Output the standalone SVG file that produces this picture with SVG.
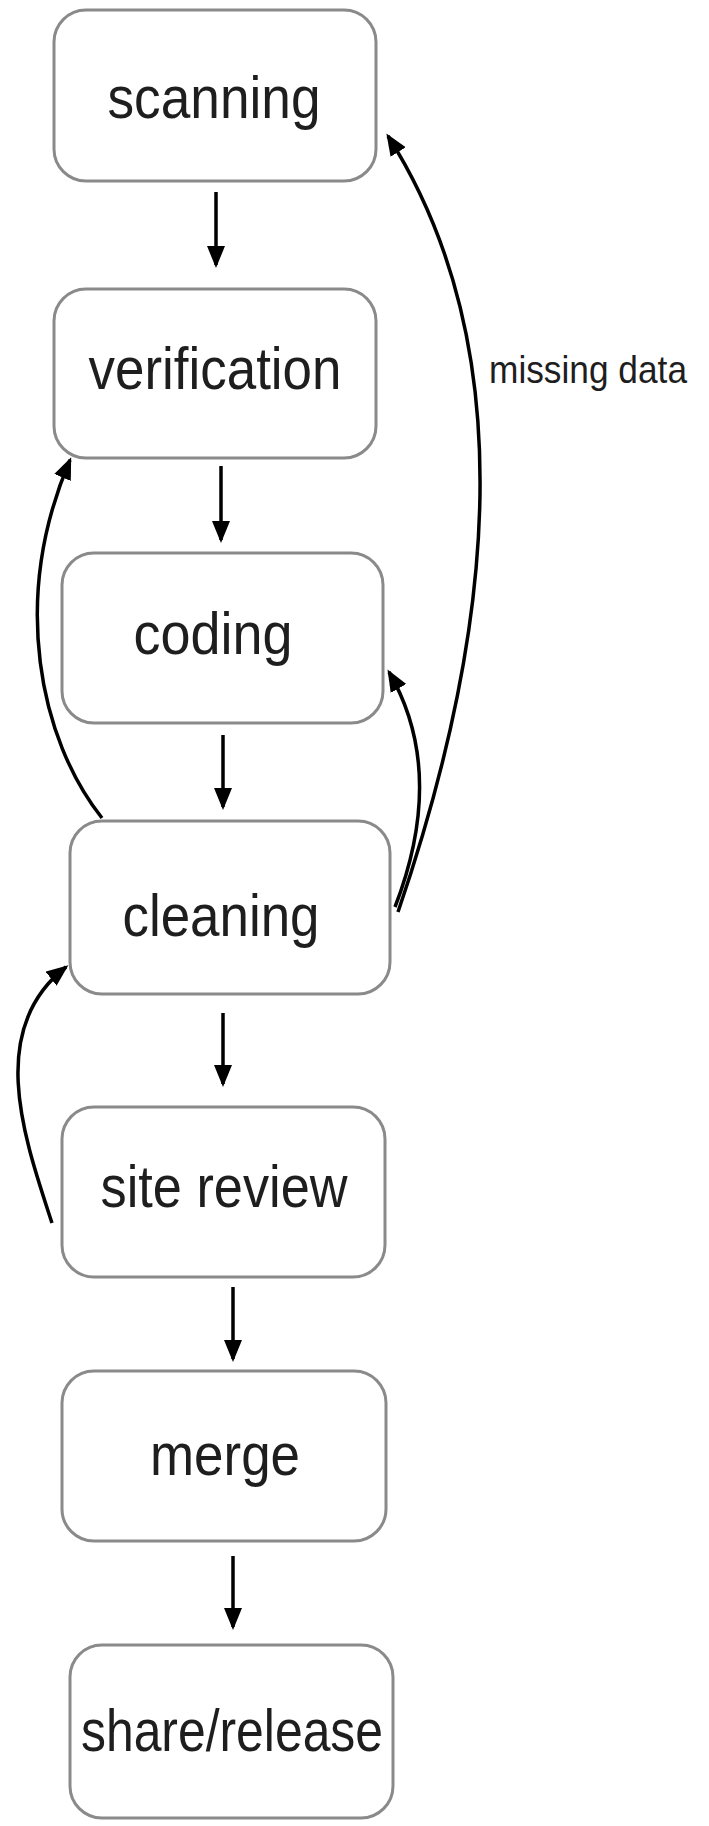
<svg xmlns="http://www.w3.org/2000/svg" width="709" height="1826" viewBox="0 0 709 1826">
  <style>
    .box { fill: #ffffff; stroke: #8a8a8a; stroke-width: 3; }
    .lbl { font-family: "Liberation Sans", Arial, sans-serif; font-size: 60px; fill: #1e1e1e; text-anchor: middle; }
    .note { font-family: "Liberation Sans", Arial, sans-serif; font-size: 39px; fill: #1e1e1e; }
    .edge { fill: none; stroke: #000000; stroke-width: 3.5; marker-end: url(#ah); }
  </style>
  <defs>
    <marker id="ah" markerUnits="userSpaceOnUse" markerWidth="24" markerHeight="20" refX="19" refY="9" orient="auto">
      <path d="M0,0 L22,9 L0,18 z" fill="#000000"/>
    </marker>
  </defs>
  <rect width="709" height="1826" fill="#ffffff"/>

  <g id="node-scanning">
    <rect class="box" x="54" y="10" width="322" height="171" rx="32" ry="32"/>
    <text class="lbl" x="214" y="118" textLength="213" lengthAdjust="spacingAndGlyphs">scanning</text>
  </g>
  <g id="node-verification">
    <rect class="box" x="54" y="289" width="322" height="169" rx="32" ry="32"/>
    <text class="lbl" x="215" y="389" textLength="253" lengthAdjust="spacingAndGlyphs">verification</text>
  </g>
  <g id="node-coding">
    <rect class="box" x="62" y="553" width="321" height="170" rx="32" ry="32"/>
    <text class="lbl" x="213" y="654" textLength="159" lengthAdjust="spacingAndGlyphs">coding</text>
  </g>
  <g id="node-cleaning">
    <rect class="box" x="70" y="821" width="320" height="173" rx="32" ry="32"/>
    <text class="lbl" x="221" y="936" textLength="197" lengthAdjust="spacingAndGlyphs">cleaning</text>
  </g>
  <g id="node-site-review">
    <rect class="box" x="62" y="1107" width="323" height="170" rx="32" ry="32"/>
    <text class="lbl" x="224" y="1207" textLength="247" lengthAdjust="spacingAndGlyphs">site review</text>
  </g>
  <g id="node-merge">
    <rect class="box" x="62" y="1371" width="324" height="170" rx="32" ry="32"/>
    <text class="lbl" x="225" y="1475" textLength="150" lengthAdjust="spacingAndGlyphs">merge</text>
  </g>
  <g id="node-share-release">
    <rect class="box" x="70" y="1645" width="323" height="173" rx="32" ry="32"/>
    <text class="lbl" x="232" y="1751" textLength="302" lengthAdjust="spacingAndGlyphs">share/release</text>
  </g>

  <g id="connectors">
    <path class="edge" d="M216 192 L216 265"/>
    <path class="edge" d="M221 466 L221 540"/>
    <path class="edge" d="M223 735 L223 807"/>
    <path class="edge" d="M223 1013 L223 1084"/>
    <path class="edge" d="M233 1287 L233 1359"/>
    <path class="edge" d="M233 1556 L233 1627"/>
    <path class="edge" d="M398 912 Q567 418 388 136"/>
    <path class="edge" d="M395 907 Q447 772 389 672"/>
    <path class="edge" d="M102 818 C40 740 10 600 70 460"/>
    <path class="edge" d="M52 1223 C25 1140 -15 1030 66 967"/>
    <text class="note" x="489" y="383" textLength="198" lengthAdjust="spacingAndGlyphs">missing data</text>
  </g>
</svg>
